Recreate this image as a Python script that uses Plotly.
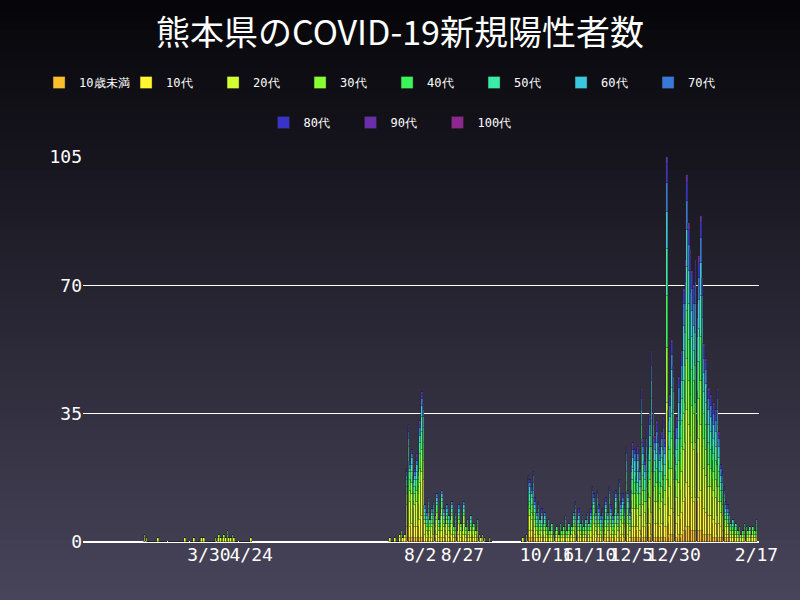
import datetime as dt
import plotly.graph_objects as go

ages = ["10歳未満","10代","20代","30代","40代","50代","60代","70代","80代","90代","100代"]
colors = ["#FBBF2C","#FFF530","#D4FF33","#88FF33","#3CF55A","#3CEBA8","#3CC8DC","#3A78D8","#3A33C8","#6A2EA8","#8E2890"]

# daily totals
spring_start = "2020-02-21"
spring = [2,1,0,0,0,0,0,0,1,0,0,0,0,0,0,0,0,0,0,0,0,0,0,0,1,0,0,0,0,1,0,0,0,1,1,1,0,0,0,0,0,0,1,1,2,1,1,2,1,3,1,1,2,1,0,0,0,0,0,0,0,0,0,1]
summer_start = "2020-07-15"
summer = [1,0,0,1,0,0,2,3,1,2,20,32,22,25,18,20,24,19,33,41,38,10,8,12,6,9,11,7,13,6,8,14,9,5,10,7,6,11,4,8,3,10,5,3,11,4,6,3,7,4,5,3,6,2,1,2,1,0,0,1,0]
autumn_start = "2020-10-01"
autumn = [0,1,0,2,18,17,15,19,12,8,11,6,9,5,8,4,6,3,5,2,3,4,2,5,3,4,7,3,5,2,4,8,11,6,9,5,7,4,6,8,5,9,15,13,8,14,10,7,9,6,12,8,15,10,7,9,14,8,17,11,13,
          10,26,14,9,22,27,25,18,26,20,42,28,22,31,25,35,52,38,29,33,29,26,30,34,28,105,36,40,55,48,31,34,45,38,52,
          69,77,100,87,80,74,70,77,65,78,89,72,54,50,42,42,40,36,38,36,42,30,21,19,15,11,10,8,5,6,4,5,3,4,2,3,5,4,3,4,2,4,3,6]

# estimated age mix per wave (percent)
share_spring = [0,5,20,15,15,15,15,10,5,0,0]
share_summer = [3,14,30,14,12,10,7,5,3,2,0]
share_autumn = [4,12,20,14,13,12,10,8,5,2,0]

def split(total, share):
    raw = [total*s/sum(share) for s in share]
    base = [int(r) for r in raw]
    rem = total - sum(base)
    order = sorted(range(len(raw)), key=lambda i: raw[i]-base[i], reverse=True)
    for i in order[:rem]:
        base[i] += 1
    return base

dates, rows = [], []
for start, vals, sh in [(spring_start, spring, share_spring),(summer_start, summer, share_summer),(autumn_start, autumn, share_autumn)]:
    d0 = dt.date.fromisoformat(start)
    for k, v in enumerate(vals):
        dates.append(d0 + dt.timedelta(days=k))
        rows.append(split(v, sh))

fig = go.Figure()
for a, (name, col) in enumerate(zip(ages, colors)):
    fig.add_trace(go.Bar(x=dates, y=[r[a] for r in rows], name=name,
                         legend="legend" if a < 8 else "legend2",
                         marker=dict(color=col, line=dict(width=0.4, color="#222")), width=86400000*0.95))

# background gradient
shapes = []
n = 60
top, bot = (6, 6, 10), (72, 68, 90)
y_top, y_bot = 542/385, -58/385
step = (y_top - y_bot)/n
for i in range(n):
    t = i/(n-1)
    c = tuple(int(top[j]+(bot[j]-top[j])*t) for j in range(3))
    y1 = y_top - step*i
    y0 = y1 - step*1.6
    shapes.append(dict(type="rect", xref="paper", yref="paper", x0=-0.2, x1=1.2, y0=y0, y1=y1,
                       fillcolor="rgb(%d,%d,%d)" % c, line=dict(width=0), layer="below"))

tickdates = ["2020-03-30","2020-04-24","2020-08-02","2020-08-27","2020-10-16","2020-11-10","2020-12-05","2020-12-30","2021-02-17"]
ticklabels = ["3/30","4/24","8/2","8/27","10/16","11/10","12/5","12/30","2/17"]

legfont = dict(family="DejaVu Sans Mono", size=12, color="white")
fig.update_layout(
    width=800, height=600, barmode="stack", bargap=0,
    paper_bgcolor="#1a1a22", plot_bgcolor="rgba(0,0,0,0)",
    shapes=shapes,
    margin=dict(l=83, r=41, t=157, b=58, autoexpand=False),
    title=dict(text="熊本県のCOVID-19新規陽性者数", x=0.5, xanchor="center", y=0.965, yanchor="top",
               font=dict(family="Noto Sans CJK JP", size=34, color="white")),
    legend=dict(orientation="h", x=-0.065, xanchor="left", y=(542-68)/385, yanchor="top",
                font=legfont, entrywidth=42, bgcolor="rgba(0,0,0,0)", traceorder="normal"),
    legend2=dict(orientation="h", x=0.46, xanchor="center", y=(542-108)/385, yanchor="top",
                 font=legfont, entrywidth=42, bgcolor="rgba(0,0,0,0)", traceorder="normal"),
    font=dict(family="DejaVu Sans Mono", color="white"),
    xaxis=dict(type="date", range=["2020-01-15 12:00","2021-02-18 12:00"], tickvals=tickdates, ticktext=ticklabels,
               tickangle=0, showgrid=False, zeroline=False, tickfont=dict(size=18, color="white"), ticks=""),
    yaxis=dict(range=[0,105], tickvals=[0,35,70,105], showgrid=True, gridcolor="white", gridwidth=1,
               zeroline=True, zerolinecolor="white", tickfont=dict(size=18, color="white"), ticks=""),
)
fig.write_html("out.html", config={"displayModeBar": False},
               post_script="document.body.style.margin='0';document.body.style.background='#000';")
